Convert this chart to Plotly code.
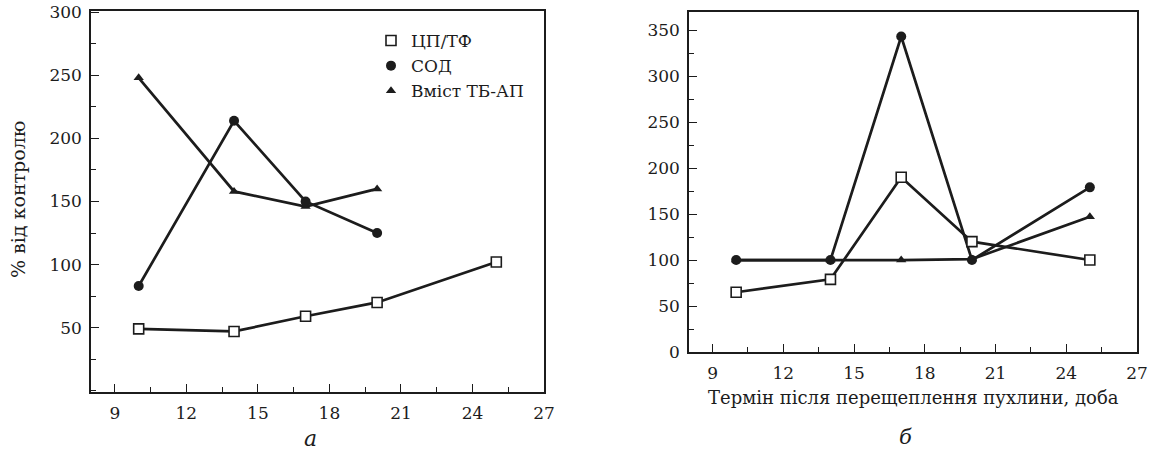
import plotly.graph_objects as go

W, H = 1149, 452

# Panel a
days_a = [10, 14, 17, 20, 25]
cp_tf_a = [49, 47, 59, 70, 102]
days_sod_a = [10, 14, 17, 20]
sod_a = [83, 214, 150, 125]
days_tb_a = [10, 14, 17, 20]
tb_ap_a = [248, 158, 146, 160]

# Panel b
days_b = [10, 14, 17, 20, 25]
cp_tf_b = [65, 79, 190, 120, 100]
sod_b = [100, 100, 343, 100, 179]
tb_ap_b = [100, 100, 100, 101, 147]

series_names = ["ЦП/ТФ", "СОД", "Вміст ТБ-АП"]
x_ticks = [9, 12, 15, 18, 21, 24, 27]
y_ticks_a = [50, 100, 150, 200, 250, 300]
y_ticks_b = [0, 50, 100, 150, 200, 250, 300, 350]

INK = "#1c1c1c"
FONT = "'DejaVu Serif', 'Liberation Serif', serif"

sq = dict(symbol="square", size=10, color="white", line=dict(color=INK, width=1.6))
ci = dict(symbol="circle", size=10, color=INK, line=dict(color=INK, width=0))
tr = dict(symbol="triangle-up", size=9, color=INK, line=dict(color=INK, width=0))
ln = dict(color=INK, width=2.7)

fig = go.Figure()

def add(x, y, marker, xa, ya):
    fig.add_trace(go.Scatter(x=x, y=y, mode="lines+markers", line=ln, marker=marker,
                             xaxis=xa, yaxis=ya, showlegend=False, hoverinfo="skip"))

add(days_tb_a, tb_ap_a, tr, "x", "y")
add(days_sod_a, sod_a, ci, "x", "y")
add(days_a, cp_tf_a, sq, "x", "y")
add(days_b, tb_ap_b, tr, "x2", "y2")
add(days_b, sod_b, ci, "x2", "y2")
add(days_b, cp_tf_b, sq, "x2", "y2")

for name, mk in zip(series_names, [sq, ci, tr]):
    fig.add_trace(go.Scatter(x=[None], y=[None], mode="markers", marker=mk, name=name,
                             xaxis="x", yaxis="y", showlegend=True))

TICKFONT = dict(family=FONT, size=17, color=INK)

def xaxis(domain, anchor):
    return dict(domain=domain, anchor=anchor, range=[8, 27], tickvals=x_ticks,
                ticks="inside", ticklen=8, tickwidth=1.3, tickcolor=INK,
                minor=dict(tick0=9, dtick=1.5, ticks="inside", ticklen=5, tickwidth=1.2, tickcolor=INK),
                showline=True, linecolor=INK, linewidth=1.5, mirror=True,
                showgrid=False, zeroline=False, ticklabelstandoff=5, automargin=False,
                tickfont=TICKFONT)

def yaxis(domain, anchor, rng, vals):
    return dict(domain=domain, anchor=anchor, range=rng, tickvals=vals,
                ticks="inside", ticklen=8, tickwidth=1.3, tickcolor=INK,
                minor=dict(tick0=0, dtick=25, ticks="inside", ticklen=5, tickwidth=1.2, tickcolor=INK),
                showline=True, linecolor=INK, linewidth=1.5, mirror=True,
                showgrid=False, zeroline=False, ticklabelstandoff=4, automargin=False,
                tickfont=TICKFONT)

fig.update_layout(
    width=W, height=H,
    margin=dict(l=0, r=0, t=0, b=0, autoexpand=False),
    paper_bgcolor="white", plot_bgcolor="white",
    font=dict(family=FONT, size=18, color=INK),
    xaxis=xaxis([91 / W, 544 / W], "y"),
    yaxis=yaxis([(H - 392) / H, (H - 11) / H], "x", [-1, 301], y_ticks_a),
    xaxis2=xaxis([689 / W, 1137 / W], "y2"),
    yaxis2=yaxis([(H - 352) / H, (H - 11.7) / H], "x2", [0, 370], y_ticks_b),
    legend=dict(x=371 / W, y=(H - 23) / H, xanchor="left", yanchor="top",
                bgcolor="rgba(0,0,0,0)", borderwidth=0,
                font=dict(family=FONT, size=17, color=INK),
                itemwidth=30, tracegroupgap=0),
    annotations=[
        dict(text="% від контролю", xref="paper", yref="paper", x=18 / W, y=(H - 200) / H,
             textangle=-90, showarrow=False, font=dict(family=FONT, size=19, color=INK),
             xanchor="center", yanchor="middle"),
        dict(text="Термін після перещеплення пухлини, доба", xref="paper", yref="paper",
             x=913 / W, y=(H - 397) / H, showarrow=False,
             font=dict(family=FONT, size=18, color=INK), xanchor="center", yanchor="middle"),
        dict(text="<i>а</i>", xref="paper", yref="paper", x=310 / W, y=(H - 438) / H,
             showarrow=False, font=dict(family=FONT, size=22, color=INK),
             xanchor="center", yanchor="middle"),
        dict(text="<i>б</i>", xref="paper", yref="paper", x=905 / W, y=(H - 437) / H,
             showarrow=False, font=dict(family=FONT, size=21, color=INK),
             xanchor="center", yanchor="middle"),
    ],
)

fig.write_html("out.html", config={"displayModeBar": False},
               post_script="document.body.style.margin='0';")
